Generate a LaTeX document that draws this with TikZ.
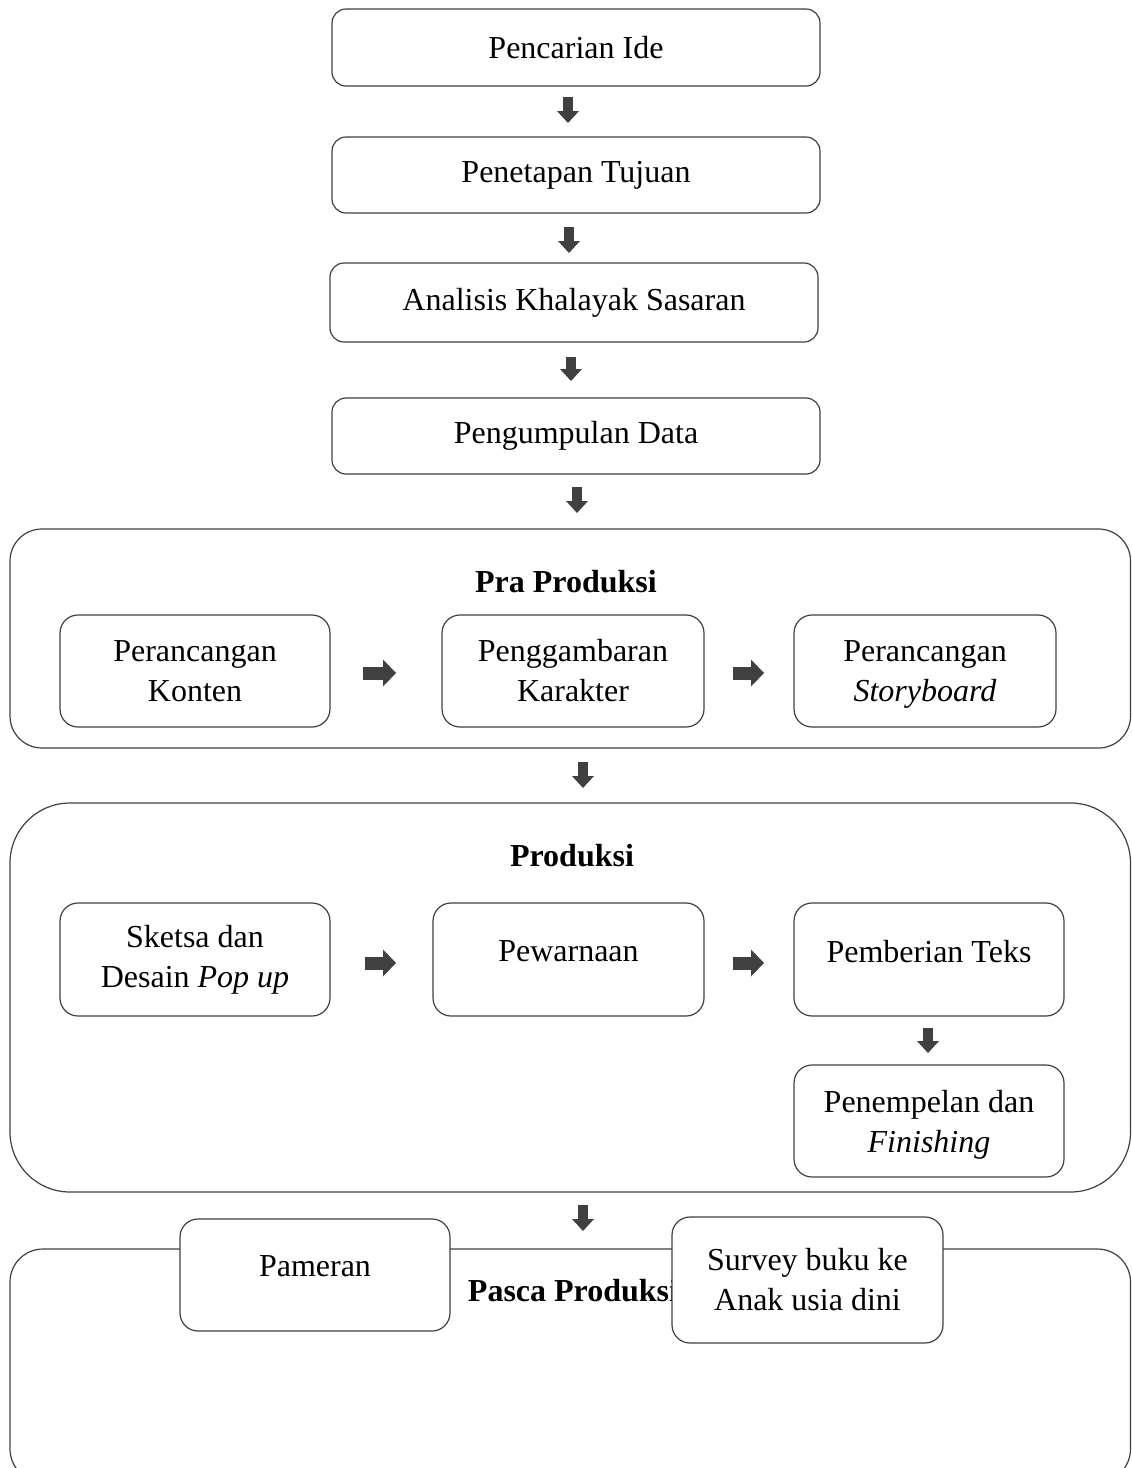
\documentclass[tikz,border=0pt]{standalone}
\usepackage{fontspec}
\setmainfont{Liberation Serif}
\usetikzlibrary{arrows.meta}
\definecolor{boxline}{RGB}{64,64,64}
\definecolor{arrowgray}{RGB}{64,64,64}

\begin{document}
\begin{tikzpicture}[x=1pt, y=-1pt,
  every node/.style={font=\fontsize{32}{40}\selectfont, outer sep=0pt},
  stepbox/.style={draw=boxline, line width=1.2pt, rounded corners=14pt, fill=white, align=center, inner sep=0pt},
  subbox/.style={stepbox, rounded corners=18pt, minimum width=270pt, minimum height=112pt},
  phasebox/.style={draw=boxline, line width=1.2pt, inner sep=0pt, minimum width=1120.5pt},
  toptext/.style={text depth=17pt},
  flattext/.style={text depth=0pt},
  dnarrow/.style={draw=arrowgray, line width=10pt, -{Triangle[width=22pt, length=12pt, line width=0pt]}},
  rtarrow/.style={draw=arrowgray, line width=13pt, -{Triangle[width=27pt, length=13pt, line width=0pt]}}]
\clip (0,0) rectangle (1132,1468);
\useasboundingbox (0,0) rectangle (1132,1468);

% urutan awal
\node [stepbox, minimum width=488pt, minimum height=77pt] (ide) at (576,47.5) {Pencarian Ide};
\node [stepbox, minimum width=488pt, minimum height=76pt] (tujuan) at (576,175) {Penetapan Tujuan};
\node [stepbox, minimum width=488pt, minimum height=79pt] (analisis) at (574,302.5) {Analisis Khalayak Sasaran};
\node [stepbox, minimum width=488pt, minimum height=76pt] (data) at (576,436) {Pengumpulan Data};
\draw [dnarrow, shorten <=11pt, shorten >=14pt] ([xshift=-8pt]ide.south) -- ([xshift=-8pt]tujuan.north);
\draw [dnarrow, shorten <=14pt, shorten >=10pt] ([xshift=-7pt]tujuan.south) -- ([xshift=-5pt]analisis.north);
\draw [dnarrow, shorten <=15pt, shorten >=17pt] ([xshift=-3pt]analisis.south) -- ([xshift=-5pt]data.north);

% pra produksi
\node [phasebox, rounded corners=32pt, minimum height=219pt] (pra) at (570.25,638.5) {};
\node [font=\fontsize{32}{40}\selectfont\bfseries] (praTitle) at (566,582) {Pra Produksi};
\node [subbox] (konten) at (195,671) {Perancangan\\Konten};
\node [subbox, minimum width=262pt] (karakter) at (573,671) {Penggambaran\\Karakter};
\node [subbox, minimum width=262pt, flattext] (storyboard) at (925,671) {Perancangan\\\textit{Storyboard}};
\draw [rtarrow, shorten <=33pt, shorten >=46pt] ([yshift=-2pt]konten.east) -- ([yshift=-2pt]karakter.west);
\draw [rtarrow, shorten <=29pt, shorten >=30pt] ([yshift=-2pt]karakter.east) -- ([yshift=-2pt]storyboard.west);
\draw [dnarrow, shorten <=13pt, shorten >=16pt] ([xshift=1pt]data.south) -- ([xshift=6.75pt]pra.north);

% produksi
\node [phasebox, rounded corners=60pt, minimum height=389pt] (produksi) at (570.25,997.5) {};
\node [font=\fontsize{32}{40}\selectfont\bfseries] (produksiTitle) at (572,856) {Produksi};
\node [subbox, minimum height=113pt] (sketsa) at (195,959.5) {Sketsa dan\\Desain \textit{Pop up}};
\node [subbox, minimum width=271pt, minimum height=113pt, toptext] (warna) at (568.5,959.5) {Pewarnaan};
\node [subbox, minimum height=113pt, toptext] (teks) at (929,959.5) {Pemberian Teks};
\node [subbox, flattext] (tempel) at (929,1121) {Penempelan dan\\\textit{Finishing}};
\draw [rtarrow, shorten <=35pt, shorten >=37pt] ([yshift=-3.5pt]sketsa.east) -- ([yshift=-3.5pt]warna.west);
\draw [rtarrow, shorten <=29pt, shorten >=30pt] ([yshift=-3.5pt]warna.east) -- ([yshift=-3.5pt]teks.west);
\draw [dnarrow, shorten <=12pt, shorten >=12pt] ([xshift=-1pt]teks.south) -- ([xshift=-1pt]tempel.north);
\draw [dnarrow, shorten <=14pt, shorten >=15pt] ([xshift=12.75pt]pra.south) -- ([xshift=12.75pt]produksi.north);

% pasca produksi
\node [phasebox, rounded corners=33pt, minimum height=233pt] (pasca) at (570.25,1365.5) {};
\node [font=\fontsize{32}{40}\selectfont\bfseries] (pascaTitle) at (573,1291) {Pasca Produksi};
\node [subbox, toptext] (pameran) at (315,1275) {Pameran};
\node [subbox, minimum width=271pt, minimum height=126pt] (survey) at (807.5,1280) {Survey buku ke\\Anak usia dini};
\draw [dnarrow, shorten <=13pt, shorten >=18pt] ([xshift=12.75pt]produksi.south) -- ([xshift=12.75pt]pasca.north);
\end{tikzpicture}
\end{document}
